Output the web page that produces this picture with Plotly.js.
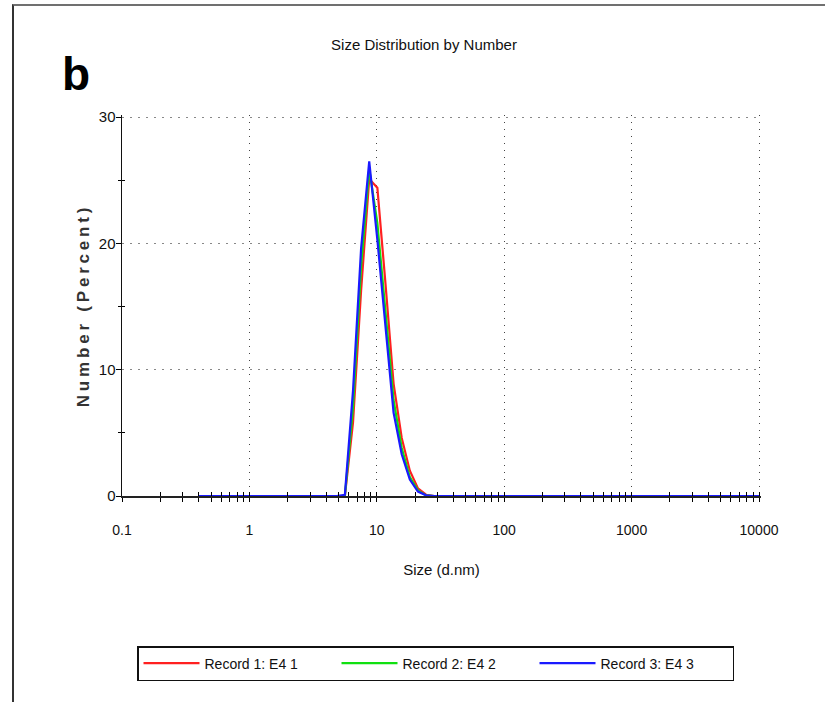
<!DOCTYPE html>
<html>
<head>
<meta charset="utf-8">
<script src="https://cdn.plot.ly/plotly-3.0.1.min.js"></script>
<style>
  html, body { margin: 0; padding: 0; background: #fff; }
  #wrap { position: relative; width: 825px; height: 702px; }
  #chart { width: 825px; height: 702px; }
  #frame { position: absolute; left: 12px; top: 4px; right: 0; bottom: 0;
           border-top: 2px solid #707070; border-left: 2px solid #333; pointer-events: none; }
  #chart text.ytitle { letter-spacing: 3.8px; }
</style>
</head>
<body>
<div id="wrap">
  <div id="chart"></div>
  <div id="frame"></div>
</div>
<script>
// Size bins (d.nm)
const sizes = [0.4,0.4632,0.5365,0.6213,0.7195,0.8332,0.9649,1.117,1.294,1.499,
  1.736,2.01,2.328,2.696,3.122,3.615,4.187,4.849,5.615,6.503,
  7.531,8.721,10.1,11.7,13.54,15.69,18.17,21.04,24.36,28.21,
  32.67,37.84,43.82,50.75,58.77,68.06,78.82,91.28,105.7,122.4,
  141.8,164.2,190.1,220.2,255.0,295.3,342.0,396.1,458.7,531.2,
  615.1,712.4,825.0,955.4,1106,1281,1484,1718,1990,2305,
  2669,3091,3580,4145,4801,5560,6439,7456,8635,10000];

// Number (%) per record
const record1 = [0,0,0,0,0,0,0,0,0,0, 0,0,0,0,0,0,0,0,0,5.8,
  16.3,25.1,24.4,16.8,8.9,4.6,2.0,0.6,0.1,0, 0,0,0,0,0,0,0,0,0,0,
  0,0,0,0,0,0,0,0,0,0, 0,0,0,0,0,0,0,0,0,0, 0,0,0,0,0,0,0,0,0,0];
const record2 = [0,0,0,0,0,0,0,0,0,0, 0,0,0,0,0,0,0,0,0,7.0,
  18.2,25.9,21.6,14.6,7.6,3.8,1.5,0.45,0.05,0, 0,0,0,0,0,0,0,0,0,0,
  0,0,0,0,0,0,0,0,0,0, 0,0,0,0,0,0,0,0,0,0, 0,0,0,0,0,0,0,0,0,0];
const record3 = [0,0,0,0,0,0,0,0,0,0, 0,0,0,0,0,0,0,0,0.1,8.3,
  19.6,26.5,20.3,13.3,6.6,3.3,1.3,0.35,0.05,0, 0,0,0,0,0,0,0,0,0,0,
  0,0,0,0,0,0,0,0,0,0, 0,0,0,0,0,0,0,0,0,0, 0,0,0,0,0,0,0,0,0,0];

const seriesNames = ['Record 1: E4 1', 'Record 2: E4 2', 'Record 3: E4 3'];
const seriesColors = ['#ff2020', '#10e010', '#1a1aff'];

const xMajor = [0.1, 1, 10, 100, 1000, 10000];
const xMajorText = ['0.1', '1', '10', '100', '1000', '10000'];
const xMinor = [];
xMajor.slice(0, -1).forEach(d => { for (let k = 2; k <= 9; k++) xMinor.push(+(d * k).toPrecision(3)); });
const yMajor = [0, 10, 20, 30];
const yMinor = [5, 15, 25];

const sans = '"Liberation Sans", Arial, sans-serif';
const xRange = [-1, 4.0157];
const yRange = [0, 30.16];

const data = [record1, record2, record3].map((vals, i) => ({
  x: sizes, y: vals, type: 'scatter', mode: 'lines', name: seriesNames[i],
  line: { color: seriesColors[i], width: 2.2 }
}));
// helper trace for the overlay axes (inside ticks)
data.push({ x: [], y: [], xaxis: 'x2', yaxis: 'y2', showlegend: false, hoverinfo: 'skip' });

const layout = {
  width: 825, height: 702,
  margin: { l: 122, r: 64, t: 115, b: 206 },
  paper_bgcolor: '#fff', plot_bgcolor: '#fff',
  showlegend: true,
  title: { text: 'Size Distribution by Number', x: 424 / 825, xanchor: 'center',
           y: 1 - 45 / 702, yanchor: 'middle',
           font: { family: sans, size: 15, color: '#111' } },
  xaxis: {
    type: 'log', range: xRange, tickmode: 'array', tickvals: xMajor, ticktext: xMajorText,
    ticks: 'outside', ticklen: 4, tickwidth: 1, tickcolor: '#000',
    minor: { tickmode: 'array', tickvals: xMinor, ticks: 'outside', ticklen: 4, tickwidth: 1, tickcolor: '#000', showgrid: false },
    showline: true, linecolor: '#222', linewidth: 2, layer: 'below traces',
    showgrid: true, gridcolor: '#444', gridwidth: 1, griddash: '1px,6px',
    zeroline: false, ticklabelstandoff: 16,
    tickfont: { family: sans, size: 14, color: '#111' },
    title: { text: 'Size (d.nm)', standoff: 28, font: { family: sans, size: 15, color: '#111' } },
    automargin: false
  },
  yaxis: {
    range: yRange, tickmode: 'array', tickvals: yMajor,
    ticks: 'outside', ticklen: 5, tickwidth: 1, tickcolor: '#000',
    minor: { tickmode: 'array', tickvals: yMinor, ticks: 'outside', ticklen: 3, tickwidth: 1, tickcolor: '#000', showgrid: false },
    showline: true, linecolor: '#111', linewidth: 1.5, layer: 'below traces',
    showgrid: true, gridcolor: '#888', gridwidth: 1, griddash: '2px,6px',
    zeroline: false, ticklabelstandoff: -3,
    tickfont: { family: sans, size: 15, color: '#111' },
    title: { text: 'Number (Percent)', standoff: 5, font: { family: sans, size: 17, color: '#333', weight: 'bold' } },
    automargin: false
  },
  xaxis2: {
    type: 'log', range: xRange, overlaying: 'x', anchor: 'y2', tickmode: 'array',
    tickvals: xMajor.concat(xMinor), ticks: 'inside', ticklen: 4, tickwidth: 1, tickcolor: '#000',
    showticklabels: false, showgrid: false, showline: false, zeroline: false
  },
  yaxis2: {
    range: yRange, overlaying: 'y', anchor: 'x2', tickmode: 'array', tickvals: yMinor,
    ticks: 'inside', ticklen: 3, tickwidth: 1, tickcolor: '#000',
    showticklabels: false, showgrid: false, showline: false, zeroline: false
  },
  legend: {
    orientation: 'h', xref: 'container', yref: 'container',
    x: 137 / 825, xanchor: 'left', y: 1 - 646 / 702, yanchor: 'top',
    bordercolor: '#111', borderwidth: 1.5, bgcolor: '#fff',
    entrywidth: 127, itemwidth: 56,
    font: { family: sans, size: 14, color: '#111' }
  },
  annotations: [
    { text: '<b>b</b>', xref: 'paper', yref: 'paper', x: (76 - 122) / 639, y: (496 - 74) / 381,
      xanchor: 'center', yanchor: 'middle', showarrow: false,
      font: { family: sans, size: 46, color: '#000' } }
  ]
};

Plotly.newPlot('chart', data, layout, { displayModeBar: false, staticPlot: true });
</script>
</body>
</html>
